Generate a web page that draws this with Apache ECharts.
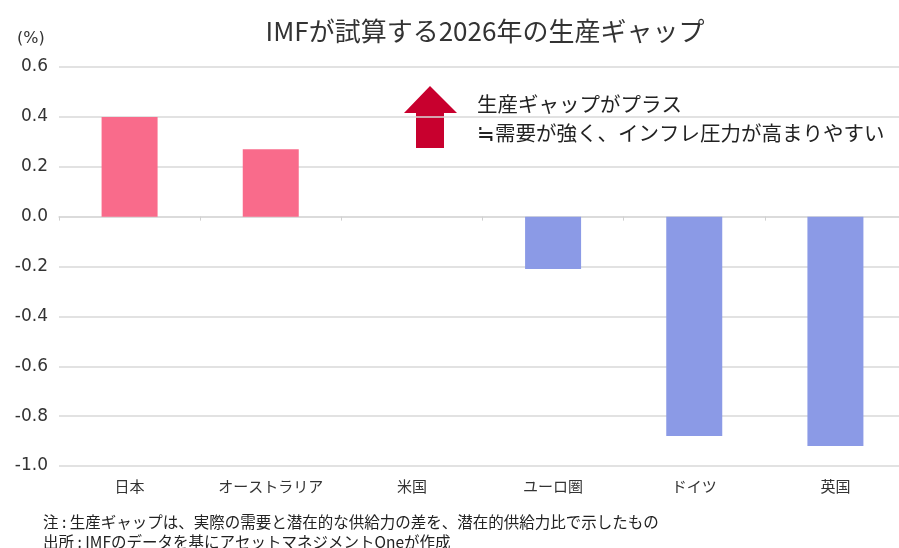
<!DOCTYPE html>
<html>
<head>
<meta charset="utf-8">
<script src="https://cdn.jsdelivr.net/npm/echarts@6/dist/echarts.min.js"></script>
<style>
    html, body { margin: 0; padding: 0; background: #fff; }
    #chart { width: 899px; height: 548px; }
</style>
</head>
<body>
<div id="chart"></div>
<script>
// カテゴリと値 (%)
const categories = ["日本", "オーストラリア", "米国", "ユーロ圏", "ドイツ", "英国"];
const gapValues = [0.40, 0.27, 0.0, -0.21, -0.88, -0.92];
const yTicks = { min: -1.0, max: 0.6, step: 0.2 };

const titleText = "IMFが試算する2026年の生産ギャップ";
const noteLines = [
    "注 : 生産ギャップは、実際の需要と潜在的な供給力の差を、潜在的供給力比で示したもの",
    "出所 : IMFのデータを基にアセットマネジメントOneが作成"
];
const annotLines = ["生産ギャップがプラス", "≒需要が強く、インフレ圧力が高まりやすい"];

const font = "'Noto Sans CJK JP', 'Noto Sans', sans-serif";
const numFont = "'DejaVu Sans', sans-serif";
const pink = "#F96B8B";
const blue = "#8B9AE6";

const chart = echarts.init(document.getElementById("chart"));

const option = {
    animation: false,
    textStyle: { fontFamily: font },
    title: {
        text: titleText,
        left: 480,
        textAlign: "center",
        top: 13,
        textStyle: { fontSize: 26, fontWeight: "normal", color: "#333", fontFamily: font }
    },
    grid: { left: 59, top: 67, width: 847, height: 399, outerBoundsMode: "none" },
    xAxis: [
        {
            type: "category",
            data: categories,
            position: "bottom",
            axisLine: { show: false, onZero: false },
            axisTick: { show: false },
            axisLabel: { color: "#333", fontSize: 15, margin: 13, fontFamily: font },
            splitLine: { show: false }
        },
        {
            type: "category",
            data: categories,
            position: "bottom",
            axisLine: { show: true, onZero: true, lineStyle: { color: "#d9d9d9", width: 1.5 } },
            axisTick: { show: true, length: 4, lineStyle: { color: "#d0d0d0" } },
            axisLabel: { show: false },
            splitLine: { show: false }
        }
    ],
    yAxis: {
        type: "value",
        min: yTicks.min,
        max: yTicks.max,
        interval: yTicks.step,
        axisLine: { show: false },
        axisTick: { show: false },
        axisLabel: {
            color: "#333",
            fontSize: 17,
            margin: 11,
            formatter: v => v.toFixed(1),
            fontFamily: numFont
        },
        splitLine: { lineStyle: { color: "#d9d9d9", width: 1.5 } }
    },
    series: [{
        type: "bar",
        xAxisIndex: 0,
        data: gapValues.map(v => ({
            value: v,
            itemStyle: { color: v >= 0 ? pink : blue }
        })),
        barWidth: 56,
        silent: true
    }],
    graphic: [
        {
            type: "text",
            left: 17,
            top: 31,
            style: { text: "(%)", fontSize: 16, fill: "#333", fontFamily: numFont }
        },
        {
            type: "polygon",
            shape: {
                points: [[430, 86], [457, 113], [444, 113], [444, 148], [416, 148], [416, 113], [404, 113]]
            },
            style: { fill: "#C8002E" }
        },
        {
            type: "text",
            left: 477,
            top: 90,
            style: {
                text: annotLines.join("\n"),
                fontSize: 20.5,
                lineHeight: 29,
                fill: "#222",
                fontFamily: font
            }
        },
        {
            type: "text",
            left: 43,
            top: 512,
            style: {
                text: noteLines.join("\n"),
                fontSize: 15.5,
                lineHeight: 20,
                fill: "#222",
                fontFamily: font
            }
        }
    ]
};

chart.setOption(option);
</script>
</body>
</html>
